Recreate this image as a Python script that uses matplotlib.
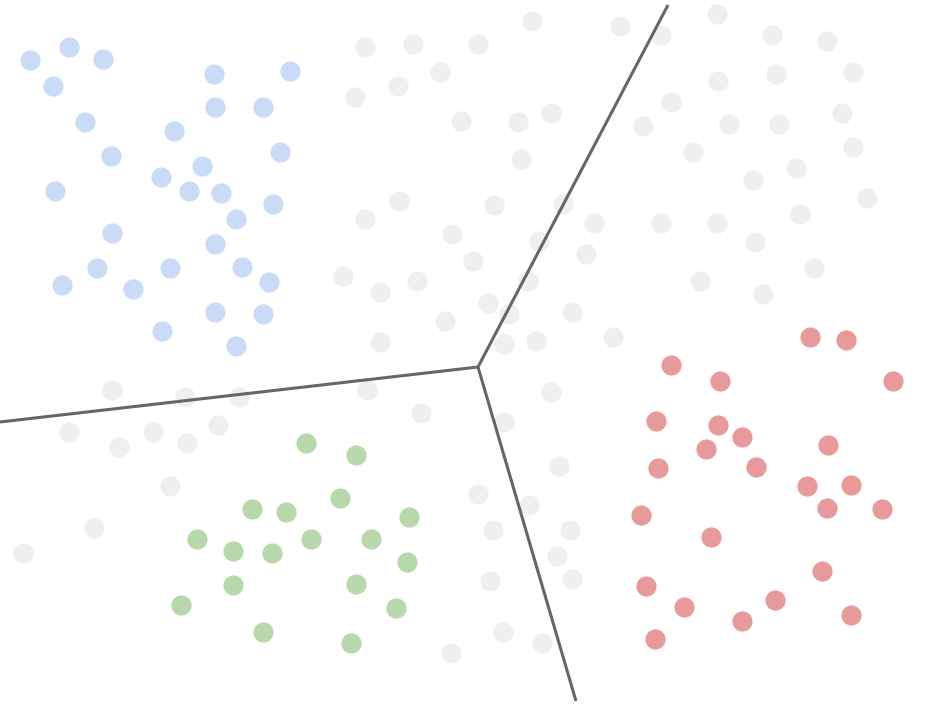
import matplotlib
matplotlib.use("Agg")
import matplotlib.pyplot as plt

# ---- data (pixel-space coordinates, y grows downward) ----
blue_x = [30, 69, 103, 53, 214, 290, 85, 215, 263, 174, 111, 280, 202, 161, 55, 189,
          221, 273, 236, 112, 215, 97, 170, 242, 62, 133, 269, 215, 263, 162, 236]
blue_y = [60, 47, 59, 86, 74, 71, 122, 107, 107, 131, 156, 152, 166, 177, 191, 191,
          193, 204, 219, 233, 244, 268, 268, 267, 285, 289, 282, 312, 314, 331, 346]

green_x = [306, 252, 286, 311, 197, 233, 272, 233, 181, 263,
           356, 340, 409, 371, 407, 356, 396, 351]
green_y = [443, 509, 512, 539, 539, 551, 553, 585, 605, 632,
           455, 498, 517, 539, 562, 584, 608, 643]

red_x = [810, 846, 671, 720, 893, 656, 718, 742, 706, 828, 658, 756, 807, 851, 827,
         882, 641, 711, 822, 646, 684, 775, 742, 851, 655]
red_y = [337, 340, 365, 381, 381, 421, 425, 437, 449, 445, 468, 467, 486, 485, 508,
         509, 515, 537, 571, 586, 607, 600, 621, 615, 639]

grey_x = [532, 620, 365, 413, 478, 440, 398, 355, 461, 518, 551, 521, 399, 365, 494,
          563, 594, 452, 539, 586, 473, 343, 380, 417, 528, 488, 509, 572, 445, 380,
          504, 536, 613,
          661, 717, 772, 827, 853, 718, 776, 671, 643, 729, 779, 842, 853, 693, 796,
          753, 867, 661, 717, 800, 755, 814, 700, 763,
          112, 185, 239, 69, 153, 218, 119, 187, 170, 94, 23,
          367, 421, 551, 504, 559, 478, 529, 493, 570, 557, 572, 490, 503, 542, 451]
grey_y = [21, 26, 47, 44, 44, 72, 86, 97, 121, 122, 113, 159, 201, 219, 205,
          204, 223, 234, 241, 254, 261, 276, 292, 281, 281, 303, 314, 312, 321, 342,
          344, 341, 337,
          35, 14, 35, 41, 72, 81, 74, 102, 126, 124, 124, 113, 147, 152, 168,
          180, 198, 223, 223, 214, 242, 268, 281, 294,
          390, 397, 397, 432, 432, 425, 447, 443, 486, 528, 553,
          390, 413, 392, 422, 466, 494, 505, 530, 530, 556, 579, 581, 632, 643, 653]

# boundary segments: shared vertex and three end points
vertex = (478, 367)
ends_x = [668, 0, 576]
ends_y = [5, 422, 701]

# ---- plot ----
W, H = 927, 706
fig = plt.figure(figsize=(W / 100, H / 100), dpi=100)
ax = fig.add_axes([0, 0, 1, 1])
ax.set_xlim(0, W)
ax.set_ylim(H, 0)
ax.axis("off")

s = 235
kw = dict(s=s, edgecolors="white", linewidths=0.8, zorder=2)
ax.scatter(grey_x, grey_y, color="#efefef", **kw)
ax.scatter(blue_x, blue_y, color="#c9dbf6", **kw)
ax.scatter(green_x, green_y, color="#b6d8aa", **kw)
ax.scatter(red_x, red_y, color="#e89a9a", **kw)

for ex, ey in zip(ends_x, ends_y):
    ax.plot([vertex[0], ex], [vertex[1], ey], color="#666666", lw=2.2,
            solid_capstyle="butt", zorder=3)

fig.savefig("out.png", dpi=100, facecolor="white")
